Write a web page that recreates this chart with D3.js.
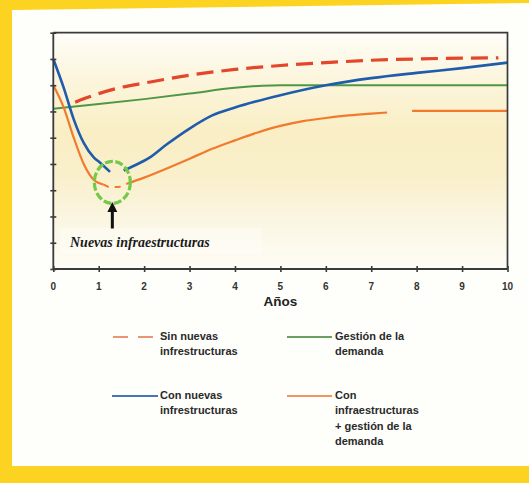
<!DOCTYPE html>
<html>
<head>
<meta charset="utf-8">
<script src="https://cdn.jsdelivr.net/npm/d3@7"></script>
<style>
html,body{margin:0;padding:0;background:#fdd321;}
svg{display:block;}
</style>
</head>
<body>
<svg id="chart" width="529" height="483"></svg>
<script>
// ---- data ----
const xTicks = [0,1,2,3,4,5,6,7,8,9,10];
const yTicks = [0,1,2,3,4,5,6,7,8,9];
const xLabel = "Años";
const annotation = "Nuevas infraestructuras";

// Sin nuevas infraestructuras (dashed red)
const sinNuevas = [[0.48,6.35],[0.7,6.5],[1,6.68],[1.5,6.92],[2,7.08],[3,7.38],[4,7.6],[5,7.75],[6,7.86],[7,7.95],[8,8.0],[9,8.03],[9.8,8.04]];
// Gestión de la demanda (green)
const gestion = [[0,6.1],[1,6.28],[2,6.47],[3,6.68],[4,6.9],[4.6,6.98],[5,7.0],[6,7.0],[7,7.0],[8,7.0],[9,7.0],[10,7.0]];
// Con nuevas infraestructuras (blue), two pieces
const conNuevasA = [[0,8.0],[0.23,6.9],[0.45,5.7],[0.67,4.8],[0.89,4.25],[1.03,4.05],[1.25,3.7]];
const conNuevasB = [[1.55,3.75],[1.8,3.95],[2.1,4.22],[2.5,4.75],[3,5.35],[3.5,5.85],[4,6.15],[5,6.62],[6,7.0],[7,7.27],[8,7.47],[9,7.65],[10,7.86]];
// Con infraestructuras + gestión de la demanda (orange), pieces
const conInfraA = [[0,7.0],[0.23,6.15],[0.45,5.0],[0.67,4.0],[0.89,3.4],[1.1,3.22]];
const conInfraDip = [[1.1,3.22],[1.25,3.12],[1.4,3.12],[1.62,3.25]];
const conInfraB = [[1.62,3.25],[2,3.48],[2.5,3.83],[3,4.2],[3.5,4.58],[4,4.9],[4.5,5.2],[5,5.45],[5.5,5.63],[6,5.75],[6.5,5.85],[7,5.92],[7.35,5.96]];
const conInfraC = [[7.9,6.02],[10,6.02]];

const legendLabels = [
  ["Sin nuevas","infrestructuras"],
  ["Gestión de la","demanda"],
  ["Con nuevas","infrestructuras"],
  ["Con","infraestructuras","+ gestión de la","demanda"]
];
const colors = {red:"#e3462b", green:"#4e9845", blue:"#1f5cab", orange:"#f07a2e"};
const legendColors = ["#e99677","#6a9e62","#4776b3","#ec9664"];

// ---- layout ----
const svg = d3.select("#chart");
const L = 53.3, R = 507.5, T = 32.7, B = 269;
const x = d3.scaleLinear().domain([0,10]).range([L,R]);
const y = d3.scaleLinear().domain([0,9]).range([B,T]);

// panel
svg.append("polygon").attr("points","12,10 529,3 529,466 12,466").attr("fill","#fefefa");

// gradient
const defs = svg.append("defs");
const g1 = defs.append("linearGradient").attr("id","bg").attr("x1",0).attr("y1",0).attr("x2",0).attr("y2",1);
[[0,"#fefdf8"],[0.18,"#fcf6df"],[0.42,"#f9eec4"],[0.6,"#f9efca"],[0.8,"#fbf6e3"],[1,"#fefcf6"]]
  .forEach(s=>g1.append("stop").attr("offset",s[0]).attr("stop-color",s[1]));
svg.append("rect").attr("x",L).attr("y",T).attr("width",R-L).attr("height",B-T).attr("fill","url(#bg)");

// faint box behind annotation
svg.append("rect").attr("x",60).attr("y",228).attr("width",202).attr("height",25)
  .attr("fill","#ffffff").attr("opacity",0.35);

// lines
const line = d3.line().x(d=>x(d[0])).y(d=>y(d[1])).curve(d3.curveMonotoneX);
function draw(data,color,w,dash){
  const p = svg.append("path").attr("d",line(data)).attr("fill","none")
    .attr("stroke",color).attr("stroke-width",w).attr("stroke-linecap","butt").attr("stroke-linejoin","round");
  if(dash) p.attr("stroke-dasharray",dash);
  return p;
}
draw(gestion,colors.green,2);
draw(conInfraA,colors.orange,2.2);
draw(conInfraDip,colors.orange,2,"6,6");
draw(conInfraB,colors.orange,2.2);
draw(conInfraC,colors.orange,2.2);
draw(conNuevasA,colors.blue,2.6);
draw(conNuevasB,colors.blue,2.6);
draw(sinNuevas,colors.red,3.2,"17,8");

// green dashed ellipse
svg.append("ellipse").attr("cx",x(1.3)).attr("cy",y(3.3)).attr("rx",18).attr("ry",21)
  .attr("fill","none").attr("stroke","#74c84a").attr("stroke-width",3.2).attr("stroke-dasharray","8,2.5");

// arrow
const ax = x(1.3);
svg.append("line").attr("x1",ax).attr("x2",ax).attr("y1",210).attr("y2",228.5).attr("stroke","#111").attr("stroke-width",3);
svg.append("polygon").attr("points",`${ax},202 ${ax-5},212 ${ax+5},212`).attr("fill","#111");

// annotation
svg.append("text").attr("x",70).attr("y",246.5).text(annotation)
  .attr("font-family","'Liberation Serif','Times New Roman',serif").attr("font-style","italic")
  .attr("font-weight","bold").attr("font-size",14).attr("fill","#1a1a1a");

// frame
const frameColor = "#3a3a3a";
svg.append("path").attr("d",`M${L},${T}H${R}V${B}`).attr("fill","none").attr("stroke",frameColor).attr("stroke-width",1.7);

// axes
const xAxis = svg.append("g").attr("transform",`translate(0,${B+3})`)
  .call(d3.axisBottom(x).tickValues(xTicks).tickSize(6).tickFormat(""));
xAxis.select(".domain").remove();
xAxis.selectAll(".tick line").attr("transform","translate(0,-6)").attr("stroke",frameColor).attr("stroke-width",1.6);

const yAxis = svg.append("g").attr("transform",`translate(${L+3},0)`)
  .call(d3.axisLeft(y).tickValues(yTicks).tickSize(6).tickFormat(""));
yAxis.select(".domain").remove();
yAxis.selectAll(".tick line").attr("stroke",frameColor).attr("stroke-width",1.6);

svg.append("line").attr("x1",L).attr("x2",L).attr("y1",T).attr("y2",B).attr("stroke",frameColor).attr("stroke-width",1.8);
svg.append("line").attr("x1",L).attr("x2",R).attr("y1",B).attr("y2",B).attr("stroke",frameColor).attr("stroke-width",1.8);

// x tick labels
svg.append("g").selectAll("text").data(xTicks).join("text")
  .attr("x",d=>x(d)).attr("y",289.5).attr("text-anchor","middle").text(d=>d)
  .attr("font-family","'Liberation Sans',Arial,sans-serif").attr("font-weight","bold")
  .attr("font-size",10).attr("fill","#333");

svg.append("text").attr("x",(L+R)/2).attr("y",306).attr("text-anchor","middle").text(xLabel)
  .attr("font-family","'Liberation Sans',Arial,sans-serif").attr("font-weight","bold")
  .attr("font-size",13.5).attr("fill","#222");

// legend
const legPos = [
  {x1:113,x2:153,y:337,tx:160,dash:"15,10"},
  {x1:287,x2:332,y:337,tx:335},
  {x1:112,x2:158,y:396,tx:160},
  {x1:287,x2:332,y:396,tx:335}
];
legendLabels.forEach((lab,i)=>{
  const p = legPos[i];
  const ln = svg.append("line").attr("x1",p.x1).attr("x2",p.x2).attr("y1",p.y).attr("y2",p.y)
    .attr("stroke",legendColors[i]).attr("stroke-width",2.2);
  if(p.dash) ln.attr("stroke-dasharray",p.dash);
  const t = svg.append("text").attr("font-family","'Liberation Sans',Arial,sans-serif")
    .attr("font-weight","bold").attr("font-size",11).attr("fill","#2a2a2a");
  lab.forEach((s,j)=>{
    t.append("tspan").attr("x",p.tx).attr("y",p.y+2.6+j*15.6).text(s);
  });
});
</script>
</body>
</html>
